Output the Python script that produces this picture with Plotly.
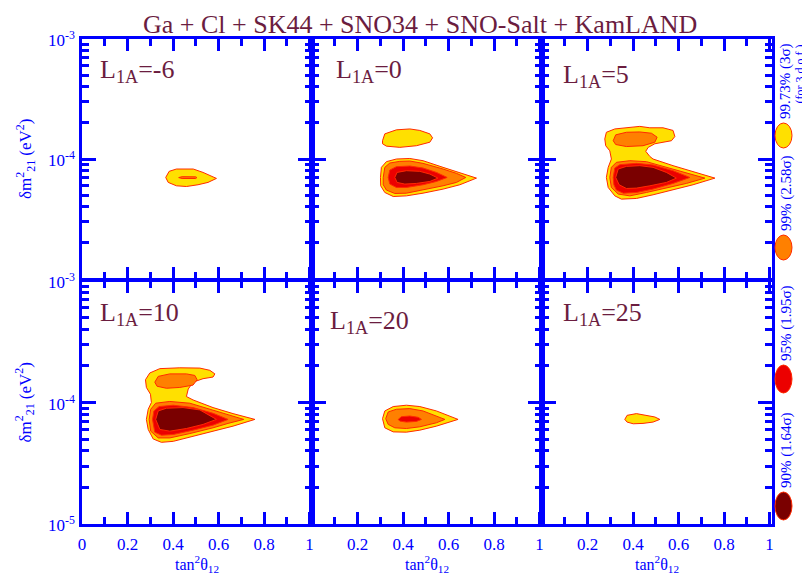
import math
import plotly.graph_objects as go

# ---------------- data (tan^2 theta12 ; dm^2_21 in units of 1e-5 eV^2) ----------------
DM_UNIT = 1e-5
PANEL_LABELS = ["-6", "0", "5", "10", "20", "25"]
LEVEL_NAMES = ["99.73% (3σ)", "99% (2.58σ)", "95% (1.95σ)", "90% (1.64σ)"]
LEVEL_COLORS = ["#FFE000", "#FF8000", "#EC0000", "#7A0000"]
EDGE_COLOR = "#FF2A00"

# L1A = -6
m6_y3_x = [0.368, 0.383, 0.415, 0.489, 0.532, 0.569, 0.591, 0.554, 0.510, 0.459, 0.415, 0.379]
m6_y3_y = [7.02, 7.89, 8.25, 8.25, 7.73, 7.26, 6.89, 6.38, 6.10, 5.90, 5.98, 6.38]
m6_o_x = [0.425, 0.44, 0.50, 0.505, 0.50, 0.44]
m6_o_y = [7.0, 7.12, 7.10, 7.0, 6.88, 6.88]

# L1A = 0
p0_y3a_x = [0.310, 0.320, 0.371, 0.430, 0.474, 0.518, 0.530, 0.518, 0.459, 0.386, 0.327, 0.310]
p0_y3a_y = [14.2, 16.2, 17.5, 17.8, 17.3, 16.2, 15.0, 13.8, 12.9, 12.5, 12.8, 13.4]
p0_y3b_x = [0.301, 0.305, 0.327, 0.371, 0.430, 0.488, 0.576, 0.650, 0.723, 0.650, 0.576, 0.488, 0.415, 0.357, 0.320, 0.302]
p0_y3b_y = [7.02, 8.52, 9.50, 10.0, 10.1, 9.68, 8.52, 7.73, 6.93, 6.10, 5.61, 5.19, 4.93, 4.87, 5.26, 5.98]
p0_o_x = [0.313, 0.320, 0.342, 0.386, 0.430, 0.488, 0.576, 0.635, 0.676, 0.635, 0.576, 0.488, 0.415, 0.364, 0.327, 0.313]
p0_o_y = [7.02, 8.52, 9.26, 9.56, 9.62, 9.20, 8.25, 7.59, 7.02, 6.38, 5.98, 5.51, 5.19, 5.16, 5.51, 6.10]
p0_r_x = [0.335, 0.342, 0.371, 0.430, 0.488, 0.547, 0.594, 0.547, 0.488, 0.415, 0.371, 0.342]
p0_r_y = [7.02, 8.09, 8.63, 8.74, 8.41, 7.73, 7.02, 6.50, 6.10, 5.79, 5.79, 6.18]
p0_d_x = [0.364, 0.374, 0.415, 0.474, 0.518, 0.554, 0.518, 0.459, 0.408, 0.374]
p0_d_y = [7.02, 7.73, 7.99, 7.89, 7.49, 6.93, 6.50, 6.26, 6.18, 6.38]

# L1A = 5
p5_y3_x = [0.276, 0.283, 0.320, 0.371, 0.430, 0.474, 0.532, 0.576, 0.584, 0.569, 0.532, 0.496, 0.467, 0.456,
           0.474, 0.488, 0.576, 0.664, 0.760, 0.664, 0.576, 0.488, 0.415, 0.349, 0.320, 0.291, 0.283, 0.291,
           0.305, 0.298, 0.280]
p5_y3_y = [14.7, 16.7, 17.8, 18.2, 18.7, 18.2, 18.2, 17.3, 15.4, 14.2, 13.8, 13.4, 12.5, 11.6,
           10.5, 10.0, 8.80, 7.89, 6.93, 6.10, 5.51, 5.03, 4.69, 4.63, 4.93, 5.79, 7.02, 8.52,
           10.0, 11.7, 12.9]
p5_oa_x = [0.313, 0.324, 0.371, 0.430, 0.481, 0.506, 0.496, 0.444, 0.371, 0.324]
p5_oa_y = [14.2, 15.9, 16.7, 16.8, 16.4, 15.2, 13.8, 12.9, 12.7, 13.2]
p5_ob_x = [0.298, 0.305, 0.327, 0.386, 0.459, 0.547, 0.635, 0.716, 0.635, 0.547, 0.459, 0.386, 0.335, 0.305]
p5_ob_y = [7.02, 8.52, 9.38, 9.68, 9.50, 8.52, 7.59, 6.93, 6.26, 5.72, 5.26, 4.93, 5.10, 5.79]
p5_r_x = [0.313, 0.320, 0.342, 0.415, 0.488, 0.576, 0.650, 0.576, 0.488, 0.415, 0.357, 0.327, 0.316]
p5_r_y = [7.02, 8.41, 8.97, 9.20, 8.91, 7.99, 7.02, 6.26, 5.61, 5.26, 5.19, 5.51, 6.10]
p5_d_x = [0.324, 0.335, 0.371, 0.430, 0.488, 0.547, 0.591, 0.547, 0.474, 0.415, 0.371, 0.339]
p5_d_y = [7.02, 8.25, 8.68, 8.80, 8.52, 7.73, 6.93, 6.38, 5.98, 5.72, 5.68, 6.10]

# L1A = 10
p10_y3_x = [0.279, 0.298, 0.342, 0.430, 0.518, 0.562, 0.584, 0.576, 0.532, 0.488, 0.467, 0.459, 0.488, 0.576,
            0.664, 0.760, 0.664, 0.576, 0.488, 0.401, 0.349, 0.313, 0.291, 0.283, 0.291, 0.305, 0.301, 0.283]
p10_y3_y = [15.4, 17.5, 19.0, 19.3, 19.2, 18.4, 17.2, 16.2, 15.7, 14.7, 12.9, 11.2, 10.5, 9.08,
            8.10, 7.26, 6.39, 5.81, 5.27, 4.79, 4.70, 5.01, 6.00, 7.26, 8.80, 10.0, 11.7, 13.3]
p10_oa_x = [0.320, 0.335, 0.386, 0.459, 0.496, 0.506, 0.488, 0.430, 0.371, 0.330]
p10_oa_y = [14.7, 16.4, 17.2, 17.2, 16.7, 15.4, 13.9, 13.3, 13.1, 13.6]
p10_ob_x = [0.295, 0.302, 0.324, 0.386, 0.474, 0.576, 0.642, 0.711, 0.642, 0.576, 0.474, 0.386, 0.335, 0.302]
p10_ob_y = [7.26, 8.80, 9.87, 10.2, 9.87, 8.69, 8.00, 7.26, 6.73, 6.19, 5.55, 5.11, 5.11, 5.81]
p10_r_x = [0.310, 0.316, 0.339, 0.401, 0.488, 0.576, 0.642, 0.576, 0.488, 0.401, 0.349, 0.320]
p10_r_y = [7.26, 8.52, 9.26, 9.50, 9.08, 8.15, 7.26, 6.51, 5.92, 5.45, 5.38, 5.70]
p10_d_x = [0.324, 0.335, 0.371, 0.444, 0.518, 0.591, 0.532, 0.459, 0.386, 0.342]
p10_d_y = [7.26, 8.52, 8.97, 9.08, 8.69, 7.26, 6.60, 6.11, 5.81, 6.00]

# L1A = 20
p20_y3_x = [0.310, 0.320, 0.357, 0.415, 0.474, 0.547, 0.642, 0.547, 0.474, 0.415, 0.357, 0.320]
p20_y3_y = [7.36, 8.52, 9.26, 9.50, 9.26, 8.52, 7.26, 6.39, 5.92, 5.70, 5.73, 6.19]
p20_o_x = [0.324, 0.335, 0.371, 0.430, 0.488, 0.547, 0.584, 0.547, 0.474, 0.415, 0.364, 0.335]
p20_o_y = [7.36, 8.36, 8.80, 8.91, 8.52, 7.74, 7.26, 6.81, 6.31, 6.11, 6.19, 6.60]
p20_r_x = [0.379, 0.393, 0.430, 0.467, 0.481, 0.459, 0.415, 0.386]
p20_r_y = [7.26, 7.64, 7.74, 7.55, 7.26, 6.99, 6.90, 7.03]

# L1A = 25
p25_y3_x = [0.364, 0.374, 0.415, 0.459, 0.496, 0.518, 0.488, 0.444, 0.401, 0.374]
p25_y3_y = [7.26, 7.84, 8.10, 7.84, 7.60, 7.26, 6.90, 6.73, 6.68, 6.90]

# regions per panel: (level index, tan2 list, dm2 list)
PANELS = [
    [(0, m6_y3_x, m6_y3_y), (1, m6_o_x, m6_o_y)],
    [(0, p0_y3a_x, p0_y3a_y), (0, p0_y3b_x, p0_y3b_y), (1, p0_o_x, p0_o_y), (2, p0_r_x, p0_r_y), (3, p0_d_x, p0_d_y)],
    [(0, p5_y3_x, p5_y3_y), (1, p5_oa_x, p5_oa_y), (1, p5_ob_x, p5_ob_y), (2, p5_r_x, p5_r_y), (3, p5_d_x, p5_d_y)],
    [(0, p10_y3_x, p10_y3_y), (1, p10_oa_x, p10_oa_y), (1, p10_ob_x, p10_ob_y), (2, p10_r_x, p10_r_y), (3, p10_d_x, p10_d_y)],
    [(0, p20_y3_x, p20_y3_y), (1, p20_o_x, p20_o_y), (2, p20_r_x, p20_r_y)],
    [(0, p25_y3_x, p25_y3_y)],
]

X_MAJOR = [0, 0.2, 0.4, 0.6, 0.8, 1.0]
X_MINOR = [0.1, 0.3, 0.5, 0.7, 0.9]
X_TEXT_FIRST = ["0", "0.2", "0.4", "0.6", "0.8", "1"]
X_TEXT_OTHER = ["", "0.2", "0.4", "0.6", "0.8", "1"]
Y_MAJOR = [1e-5, 1e-4, 1e-3]
Y_MINOR = [k * 10.0 ** e for e in (-5, -4) for k in range(2, 10)]
Y_TEXT_TOP = ["", "10<sup>-4</sup>", "10<sup>-3</sup>"]
Y_TEXT_BOTTOM = ["10<sup>-5</sup>", "10<sup>-4</sup>", "10<sup>-3</sup>"]

TITLE = "Ga + Cl + SK44 + SNO34 + SNO-Salt + KamLAND"

# ---------------- styling ----------------
BLUE = "#0000FF"
MAROON = "#6B1D3F"
FONT = "Liberation Serif"
OFF = 8                      # page body margin in the browser
W, H = 810 - OFF, 582 - OFF
L, R, T, B = 82, 772, 39, 524  # plot area in screen px


def px(x):
    return (x - L) / (R - L)


def py(y):
    return (B - y) / (B - T)


cols = [(0, 1 / 3), (1 / 3, 2 / 3), (2 / 3, 1)]
rows = [(py(279), 1.0), (0.0, py(281))]

fig = go.Figure()
layout = dict(
    width=W, height=H,
    margin=dict(l=L - OFF, r=W - (R - OFF), t=T - OFF, b=H - (B - OFF)),
    paper_bgcolor="white", plot_bgcolor="white",
    showlegend=False,
    font=dict(family=FONT, color=BLUE),
)

label_offsets = [(16, 14), (22, 14), (19, 19), (16, 15), (16, 23), (19, 15)]
annotations = []
for i, regions in enumerate(PANELS):
    n = i + 1
    sfx = "" if n == 1 else str(n)
    r, c = divmod(i, 3)
    for lev, xs, ys in regions:
        fig.add_trace(go.Scatter(
            x=list(xs) + [xs[0]], y=[v * DM_UNIT for v in ys] + [ys[0] * DM_UNIT],
            mode="lines", fill="toself", fillcolor=LEVEL_COLORS[lev],
            line=dict(color=EDGE_COLOR, width=1),
            xaxis="x" + sfx, yaxis="y" + sfx, hoverinfo="skip",
        ))
    layout["xaxis" + sfx] = dict(
        domain=cols[c], anchor="y" + sfx, range=[0, 1.011], showgrid=False, zeroline=False,
        showline=True, mirror="ticks", linecolor=BLUE, linewidth=3,
        ticks="inside", ticklen=12, tickwidth=2.5, tickcolor=BLUE,
        tickmode="array", tickvals=X_MAJOR,
        ticktext=X_TEXT_FIRST if c == 0 else X_TEXT_OTHER,
        showticklabels=(r == 1), ticklabelstandoff=3,
        tickfont=dict(family=FONT, size=17, color=BLUE),
        minor=dict(tickmode="array", tickvals=X_MINOR, ticks="inside", ticklen=7,
                   tickwidth=2.5, tickcolor=BLUE, showgrid=False),
    )
    layout["yaxis" + sfx] = dict(
        domain=rows[r], anchor="x" + sfx, type="log", range=[-5, -3], showgrid=False, zeroline=False,
        showline=True, mirror="ticks", linecolor=BLUE, linewidth=3,
        ticks="inside", ticklen=14, tickwidth=2.5, tickcolor=BLUE,
        tickmode="array", tickvals=Y_MAJOR, showticklabels=False,
        minor=dict(tickmode="array", tickvals=Y_MINOR, ticks="inside", ticklen=7,
                   tickwidth=2.5, tickcolor=BLUE, showgrid=False),
    )
    if c == 0:
        # y tick labels placed at the axis' own tick values
        for val, txt in zip(Y_MAJOR, Y_TEXT_TOP if r == 0 else Y_TEXT_BOTTOM):
            if txt:
                annotations.append(dict(
                    text=txt, showarrow=False, xref="paper", yref="y" + sfx,
                    x=px(77), y=math.log10(val), xanchor="right", yanchor="middle",
                    font=dict(family=FONT, size=17, color=BLUE),
                ))
    ox, oy = label_offsets[i]
    annotations.append(dict(
        text="L<sub>1A</sub>=" + PANEL_LABELS[i], showarrow=False,
        xref="x%s domain" % sfx, yref="y%s domain" % sfx,
        x=ox / 230, y=1 - oy / 242, xanchor="left", yanchor="top",
        font=dict(family=FONT, size=26, color=MAROON),
    ))
    if r == 1:
        annotations.append(dict(
            text="tan<sup>2</sup>θ<sub>12</sub>", showarrow=False,
            xref="x%s domain" % sfx, yref="paper", x=0.5, y=py(564),
            xanchor="center", yanchor="middle",
            font=dict(family=FONT, size=16, color=BLUE),
        ))
    if c == 0:
        annotations.append(dict(
            text="δm<sup>2</sup><sub>21</sub> (eV<sup>2</sup>)", showarrow=False, textangle=-90,
            xref="paper", yref="paper", x=px(25), y=(rows[r][0] + rows[r][1]) / 2,
            xanchor="center", yanchor="middle",
            font=dict(family=FONT, size=17, color=BLUE),
        ))

# title (box kept inside the page)
annotations.append(dict(
    text=TITLE, showarrow=False, xref="paper", yref="paper",
    x=px(420), y=py(OFF), xanchor="center", yanchor="top",
    font=dict(family=FONT, size=26, color=MAROON),
))

# legend on the right (ellipses + rotated labels)
ell_y = [(123, 148), (235, 260), (365, 393), (492, 520)]
shapes = []
for k, (y0, y1) in enumerate(ell_y):
    shapes.append(dict(
        type="circle", xref="paper", yref="paper",
        x0=px(775), x1=px(792), y0=py(y1), y1=py(y0),
        fillcolor=LEVEL_COLORS[k], line=dict(color=EDGE_COLOR, width=1),
    ))
    annotations.append(dict(
        text=LEVEL_NAMES[k], showarrow=False, textangle=-90,
        xref="paper", yref="paper", x=px(786), y=py(y0 - 2),
        xanchor="center", yanchor="bottom",
        font=dict(family=FONT, size=15, color=BLUE),
    ))
annotations.append(dict(
    text="(for 3 d.o.f.)", showarrow=False, textangle=-90,
    xref="paper", yref="paper", x=px(800), y=py(42),
    xanchor="center", yanchor="top",
    font=dict(family=FONT, size=12, color=BLUE),
))

layout["annotations"] = annotations
layout["shapes"] = shapes
fig.update_layout(**layout)
fig.write_html("out.html")
